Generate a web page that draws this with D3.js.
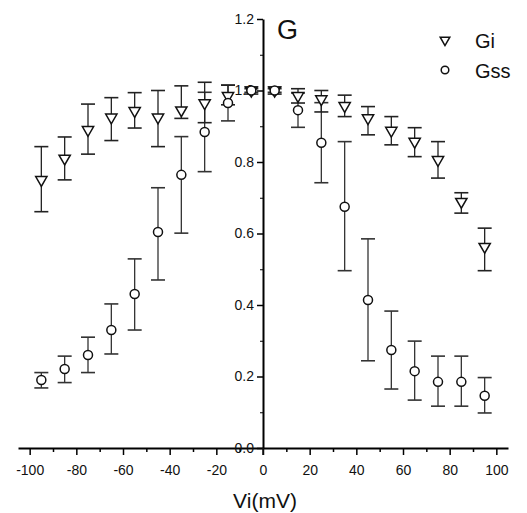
<!DOCTYPE html>
<html>
<head>
<meta charset="utf-8">
<script src="https://cdn.jsdelivr.net/npm/d3@7"></script>
<style>
  body { margin: 0; background: #fff; }
  text { font-family: "Liberation Sans", Arial, sans-serif; fill: #111; }
</style>
</head>
<body>
<div class="main"></div>
<script>
var volts = [-95, -85, -75, -65, -55, -45, -35, -25, -15, -5, 5, 15, 25, 35, 45, 55, 65, 75, 85, 95];

var gi   = [0.75, 0.81, 0.89, 0.925, 0.943, 0.925, 0.945, 0.965, 0.985, 1.0, 1.0, 0.985, 0.976, 0.957, 0.923, 0.888, 0.857, 0.806, 0.689, 0.563];
var giHi = [0.843, 0.87, 0.962, 0.98, 0.994, 1.0, 1.013, 1.023, 1.015, 1.01, 1.01, 1.005, 1.0, 0.987, 0.955, 0.927, 0.896, 0.857, 0.714, 0.615];
var giLo = [0.661, 0.75, 0.822, 0.86, 0.895, 0.843, 0.922, 0.91, 0.96, 0.99, 0.99, 0.965, 0.94, 0.927, 0.876, 0.848, 0.815, 0.755, 0.657, 0.496];

var gss   = [0.19, 0.221, 0.26, 0.33, 0.431, 0.604, 0.764, 0.884, 0.965, 1.0, 1.0, 0.945, 0.854, 0.675, 0.414, 0.274, 0.215, 0.185, 0.185, 0.146];
var gssHi = [0.211, 0.257, 0.31, 0.403, 0.529, 0.728, 0.871, 0.995, 1.015, 1.005, 1.005, 0.993, 0.966, 0.857, 0.585, 0.383, 0.299, 0.257, 0.257, 0.197];
var gssLo = [0.168, 0.183, 0.211, 0.263, 0.33, 0.47, 0.601, 0.773, 0.915, 0.995, 0.995, 0.897, 0.742, 0.496, 0.244, 0.165, 0.134, 0.117, 0.117, 0.098];

var xTicks = [-100, -80, -60, -40, -20, 0, 20, 40, 60, 80, 100];
var yTicks = [0, 0.2, 0.4, 0.6, 0.8, 1.0, 1.2];
var seriesNames = ['Gi', 'Gss'];

var options = { width: 527, height: 513 };

var svg = d3.select('.main')
    .append('svg')
    .attr('width', options.width)
    .attr('height', options.height);

var x = d3.scaleLinear().domain([-105, 105]).range([18, 508]);
var y = d3.scaleLinear().domain([0, 1.2]).range([448, 19]);

// x axis: minor ticks first, then major with labels
svg.append('g')
    .attr('transform', 'translate(0,' + y(0) + ')')
    .call(d3.axisBottom(x).tickValues(d3.range(-90, 100, 20)).tickSize(4).tickSizeOuter(0).tickFormat(''))
    .call(function (g) { g.select('.domain').remove(); g.selectAll('line').attr('stroke-width', 1.5); });

var gx = svg.append('g')
    .attr('transform', 'translate(0,' + y(0) + ')')
    .call(d3.axisBottom(x).tickValues(xTicks).tickSize(7).tickSizeOuter(0).tickFormat(function (d) { return String(d); }));
gx.select('.domain').attr('stroke-width', 2);
gx.selectAll('line').attr('stroke-width', 1.5);
gx.selectAll('text').attr('font-size', 14).attr('dy', '1.2em');

// y axis at V = 0
svg.append('g')
    .attr('transform', 'translate(' + x(0) + ',0)')
    .call(d3.axisLeft(y).tickValues(d3.range(0.1, 1.2, 0.2)).tickSize(3).tickSizeOuter(0).tickFormat(''))
    .call(function (g) { g.select('.domain').remove(); });

var gy = svg.append('g')
    .attr('transform', 'translate(' + x(0) + ',0)')
    .call(d3.axisLeft(y).tickValues(yTicks).tickSize(6).tickSizeOuter(0).tickFormat(d3.format('.1f')));
gy.select('.domain').attr('stroke-width', 2);
gy.selectAll('line').attr('stroke-width', 1.5);
gy.selectAll('text').attr('font-size', 14).attr('x', -9);

svg.append('line')
    .attr('x1', x(0)).attr('x2', x(0))
    .attr('y1', y(0)).attr('y2', y(0) + 7)
    .style('stroke', '#111').style('stroke-width', 1.5);

// axis title and panel letter
svg.append('text')
    .attr('x', x(0) + 2)
    .attr('y', 508)
    .attr('text-anchor', 'middle')
    .attr('font-size', 21)
    .text('Vi(mV)');

svg.append('text')
    .attr('x', 277)
    .attr('y', 39)
    .attr('font-size', 27)
    .text('G');

// data
var rows = volts.map(function (v, i) {
    return { v: v, gi: gi[i], giHi: giHi[i], giLo: giLo[i], gss: gss[i], gssHi: gssHi[i], gssLo: gssLo[i] };
});

function errorBars(key, color) {
    var g = svg.append('g').attr('class', 'err-' + key);
    var cap = 7;
    g.selectAll('.stem')
        .data(rows)
        .enter()
        .append('line')
        .attr('x1', function (d) { return x(d.v); })
        .attr('x2', function (d) { return x(d.v); })
        .attr('y1', function (d) { return y(d[key + 'Hi']); })
        .attr('y2', function (d) { return y(d[key + 'Lo']); })
        .style('stroke', color)
        .style('stroke-width', 1.3);
    ['Hi', 'Lo'].forEach(function (s) {
        g.selectAll('.cap' + s)
            .data(rows)
            .enter()
            .append('line')
            .attr('x1', function (d) { return x(d.v) - cap; })
            .attr('x2', function (d) { return x(d.v) + cap; })
            .attr('y1', function (d) { return y(d[key + s]); })
            .attr('y2', function (d) { return y(d[key + s]); })
            .style('stroke', color)
            .style('stroke-width', 1.6);
    });
}

errorBars('gss', '#333');
errorBars('gi', '#222');

var tri = d3.symbol().type(d3.symbolTriangle).size(55);

svg.append('g')
    .selectAll('.tri')
    .data(rows)
    .enter()
    .append('path')
    .attr('d', tri)
    .attr('transform', function (d) { return 'translate(' + x(d.v) + ',' + y(d.gi) + ') rotate(180)'; })
    .style('fill', '#fff')
    .style('stroke', '#111')
    .style('stroke-width', 1.5);

svg.append('g')
    .selectAll('.circ')
    .data(rows)
    .enter()
    .append('circle')
    .attr('cx', function (d) { return x(d.v); })
    .attr('cy', function (d) { return y(d.gss); })
    .attr('r', 4.5)
    .style('fill', '#fff')
    .style('stroke', '#111')
    .style('stroke-width', 1.5);

// legend
var legend = svg.append('g').attr('transform', 'translate(445,40)');
legend.selectAll('.lg')
    .data(seriesNames)
    .enter()
    .append('g')
    .attr('transform', function (d, i) { return 'translate(0,' + (i * 30) + ')'; })
    .each(function (d, i) {
        var g = d3.select(this);
        if (i === 0) {
            g.append('path')
                .attr('d', d3.symbol().type(d3.symbolTriangle).size(40))
                .attr('transform', 'rotate(180)')
                .style('fill', '#fff').style('stroke', '#111').style('stroke-width', 1.5);
        } else {
            g.append('circle').attr('r', 3.8)
                .style('fill', '#fff').style('stroke', '#111').style('stroke-width', 1.5);
        }
        g.append('text')
            .attr('x', 30)
            .attr('y', 8)
            .attr('font-size', 20)
            .text(d);
    });
</script>
</body>
</html>
